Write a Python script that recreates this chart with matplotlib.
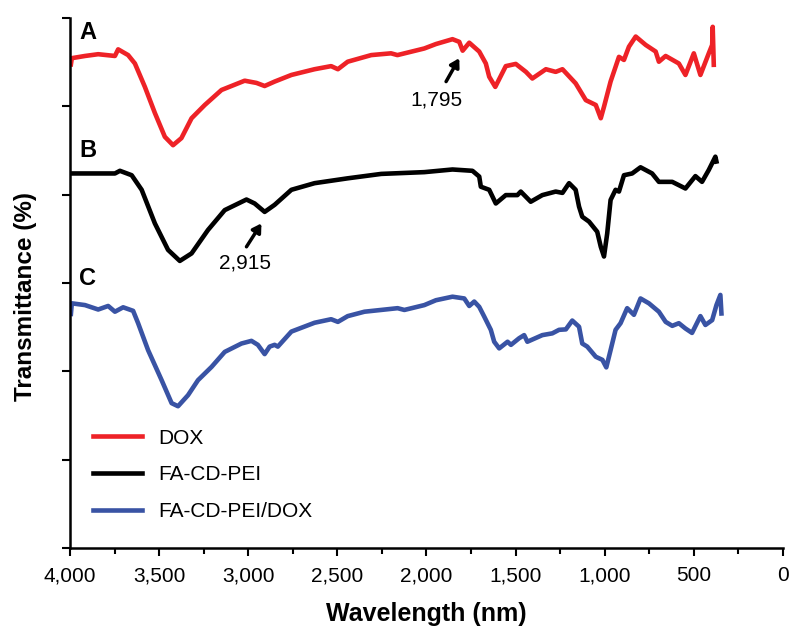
import matplotlib
matplotlib.use("Agg")
import matplotlib.pyplot as plt
from matplotlib.ticker import MultipleLocator, FuncFormatter

plt.rcParams["font.family"] = ["Liberation Sans", "DejaVu Sans"]

# --- spectra (wavenumber, offset transmittance) ---
dox_wn = [3995, 3990, 3916, 3842, 3748, 3730, 3674, 3636, 3580, 3524, 3468, 3422, 3375,
          3318, 3244, 3150, 3020, 2954, 2908, 2852, 2758, 2628, 2535, 2497, 2442, 2310,
          2199, 2163, 2012, 1947, 1854, 1816, 1797, 1760, 1704, 1667, 1648, 1614, 1555,
          1499, 1442, 1406, 1330, 1275, 1237, 1163, 1106, 1050, 1022, 1004, 967, 920,
          892, 864, 826, 770, 714, 696, 658, 584, 547, 500, 463, 416, 397, 394, 388]
dox_t = [109.5, 110.9, 111.4, 111.8, 111.4, 112.9, 111.6, 109.7, 104.4, 98.5, 93.1, 91.2, 92.8,
         97.3, 100.3, 103.7, 105.8, 105.3, 104.6, 105.6, 107.1, 108.4, 109.1, 108.4, 110.1, 111.6,
         112.0, 111.6, 113.1, 114.1, 115.2, 114.6, 112.6, 114.4, 112.4, 109.7, 106.7, 104.4, 109.1,
         109.6, 107.8, 106.3, 108.4, 107.8, 108.4, 105.2, 101.4, 100.3, 97.3, 99.9, 105.6, 111.2,
         110.5, 113.5, 115.8, 113.9, 112.4, 110.1, 111.4, 109.7, 107.1, 112.0, 107.1, 112.0, 113.9, 118.0, 109.4]

pei_wn = [3995, 3748, 3720, 3654, 3598, 3524, 3450, 3384, 3318, 3226, 3132, 3010, 2964,
          2908, 2852, 2758, 2628, 2442, 2254, 2012, 1854, 1742, 1704, 1695, 1648, 1611,
          1555, 1490, 1471, 1415, 1350, 1275, 1237, 1200, 1163, 1144, 1126, 1088, 1042,
          1022, 1004, 986, 967, 939, 920, 892, 846, 799, 734, 696, 621, 547, 491, 454,
          416, 379, 373]
pei_t = [84.8, 84.8, 85.4, 84.4, 81.1, 73.5, 67.5, 65.0, 66.7, 72.0, 76.5, 78.9, 78.0,
         76.1, 77.7, 81.1, 82.6, 83.7, 84.7, 85.1, 85.7, 85.4, 84.1, 81.8, 81.1, 78.0,
         79.9, 79.9, 80.7, 78.4, 79.9, 80.7, 80.4, 82.6, 81.1, 77.3, 75.0, 73.9, 71.6,
         68.2, 66.0, 71.2, 78.8, 81.1, 80.7, 84.4, 84.8, 86.2, 84.8, 82.9, 82.9, 81.4, 84.2, 82.9,
         85.6, 88.6, 87.5]

pei_dox_wn = [3995, 3990, 3916, 3842, 3786, 3748, 3702, 3646, 3618, 3562, 3486, 3430, 3394,
              3338, 3282, 3206, 3132, 3038, 2982, 2946, 2908, 2880, 2852, 2834, 2758, 2628,
              2535, 2497, 2442, 2348, 2162, 2124, 2012, 1947, 1854, 1788, 1760, 1732, 1704,
              1676, 1639, 1620, 1592, 1545, 1526, 1480, 1452, 1434, 1350, 1294, 1256, 1218,
              1182, 1144, 1126, 1098, 1050, 1013, 991, 967, 939, 911, 874, 836, 799, 752,
              696, 658, 621, 584, 547, 510, 463, 435, 397, 373, 351, 345]
pei_dox_t = [53.0, 55.4, 55.0, 54.0, 54.8, 53.5, 54.5, 53.7, 50.9, 44.8, 38.0, 32.8, 32.1,
             34.6, 38.0, 41.0, 44.4, 46.3, 46.9, 46.0, 43.9, 45.6, 46.0, 45.6, 49.0, 51.0,
             51.8, 51.2, 52.5, 53.5, 54.3, 53.9, 55.0, 56.1, 56.9, 56.5, 54.8, 55.8, 54.6,
             52.4, 49.4, 46.7, 45.2, 46.7, 46.0, 47.5, 48.2, 46.7, 48.2, 48.6, 49.4, 49.5,
             51.5, 50.1, 46.3, 45.6, 43.3, 42.6, 40.9, 44.8, 49.4, 50.9, 54.3, 52.8, 56.5, 55.4,
             53.5, 51.2, 50.3, 50.9, 49.7, 48.7, 52.5, 50.5, 51.6, 55.0, 57.3, 53.1]

series_labels = ["DOX", "FA-CD-PEI", "FA-CD-PEI/DOX"]
series_colors = ["#ee2227", "#000000", "#3953a4"]
panel_letters = ["A", "B", "C"]
panel_letter_y = [116.8, 90.1, 61.1]

fig = plt.figure(figsize=(7.93, 6.31), dpi=100)
ax = fig.add_axes([0.0883, 0.1315, 0.899, 0.8400])

for wn, t, lab, col in zip([dox_wn, pei_wn, pei_dox_wn], [dox_t, pei_t, pei_dox_t],
                           series_labels, series_colors):
    ax.plot(wn, t, color=col, lw=3.3, label=lab, solid_joinstyle="round")

for letter, ly in zip(panel_letters, panel_letter_y):
    ax.text(3900, ly, letter, fontsize=17, fontweight="bold", ha="center", va="center")

# peak annotations
arrow = dict(arrowstyle="-|>,head_length=0.5,head_width=0.3", color="black", lw=2.5,
             shrinkA=0, shrinkB=0)
ax.annotate("", xy=(1816, 110.9), xytext=(1890, 105.6), arrowprops=arrow)
ax.text(1945, 101.4, "1,795", fontsize=15, ha="center", va="center")
ax.annotate("", xy=(2926, 73.5), xytext=(3010, 68.2), arrowprops=arrow)
ax.text(3020, 64.5, "2,915", fontsize=15, ha="center", va="center")

ax.set_xlim(4000, 0)
ax.set_ylim(0, 120)
ax.xaxis.set_major_locator(MultipleLocator(500))
ax.xaxis.set_minor_locator(MultipleLocator(250))
ax.xaxis.set_major_formatter(FuncFormatter(lambda v, p: f"{int(v):,}"))
ax.yaxis.set_major_locator(MultipleLocator(20))
ax.set_yticklabels([])
ax.tick_params(axis="both", which="major", direction="out", length=6, width=1.5,
               labelsize=15, pad=7)
ax.tick_params(axis="x", which="minor", direction="out", length=4, width=1.5)

for side in ["top", "right"]:
    ax.spines[side].set_visible(False)
for side in ["left", "bottom"]:
    ax.spines[side].set_linewidth(1.8)

ax.set_xlabel("Wavelength (nm)", fontsize=18, fontweight="bold", labelpad=12)
ax.set_ylabel("Transmittance (%)", fontsize=17.5, fontweight="bold")
ax.yaxis.set_label_coords(-0.047, 0.475)

ax.legend(loc="upper left", bbox_to_anchor=(0.032, 0.225), frameon=False, fontsize=15,
          handlelength=2.35, handletextpad=0.77, labelspacing=0.85,
          borderaxespad=0, borderpad=0)

fig.savefig("out.png", dpi=100)
